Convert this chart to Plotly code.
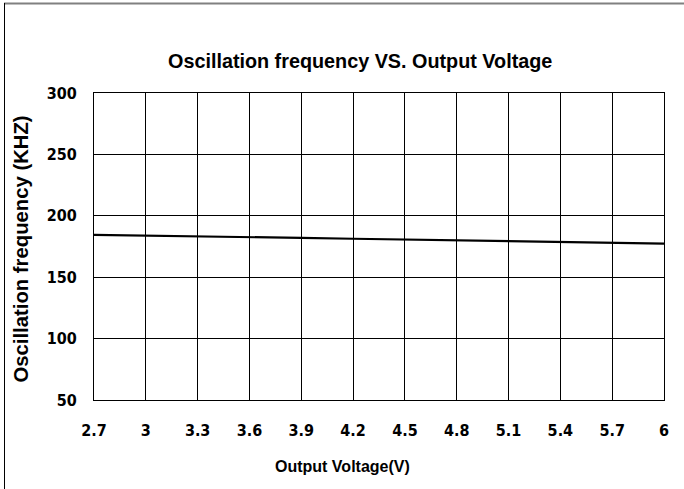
import plotly.graph_objects as go

voltage = [2.7, 3.0, 3.3, 3.6, 3.9, 4.2, 4.5, 4.8, 5.1, 5.4, 5.7, 6.0]
frequency = [184.5, 184.0, 183.3, 182.6, 182.0, 181.3, 180.6, 180.0, 179.3, 178.6, 178.0, 177.4]
x_ticks = [2.7, 3.0, 3.3, 3.6, 3.9, 4.2, 4.5, 4.8, 5.1, 5.4, 5.7, 6.0]
x_tick_text = ["2.7", "3", "3.3", "3.6", "3.9", "4.2", "4.5", "4.8", "5.1", "5.4", "5.7", "6"]
y_ticks = [50, 100, 150, 200, 250, 300]

title_text = "Oscillation frequency VS. Output Voltage"
x_title = "Output Voltage(V)"
y_title = "Oscillation frequency (KHZ)"

W, H = 684, 489
ML, MR, MT, MB = 94, 20, 93, 89
pw = W - ML - MR
ph = H - MT - MB


def px(x):
    return (x - ML) / pw


def py(y):
    return (H - y - MB) / ph


bold_font = "Liberation Sans, Arial, sans-serif"
narrow_font = "DejaVu Sans Condensed, Liberation Sans, Arial, sans-serif"

fig = go.Figure()
fig.add_trace(go.Scatter(x=voltage, y=frequency, mode="lines",
                         line=dict(color="black", width=2.2), hoverinfo="skip"))

fig.update_layout(
    width=W, height=H,
    margin=dict(l=ML, r=MR, t=MT, b=MB),
    paper_bgcolor="white", plot_bgcolor="white",
    showlegend=False,
    xaxis=dict(range=[2.7, 6.0], tickvals=x_ticks, ticktext=x_tick_text,
               showgrid=True, gridcolor="black", gridwidth=1,
               showline=True, linecolor="black", linewidth=1, mirror=True,
               zeroline=False, ticks="", ticklabelstandoff=16,
               tickfont=dict(family=narrow_font, size=16, color="black", weight="bold")),
    yaxis=dict(range=[50, 300], tickvals=y_ticks,
               showgrid=True, gridcolor="black", gridwidth=1,
               showline=True, linecolor="black", linewidth=1, mirror=True,
               zeroline=False, ticks="", ticklabelstandoff=13,
               tickfont=dict(family=narrow_font, size=16, color="black", weight="bold")),
    annotations=[
        dict(text="<b>" + title_text + "</b>", x=px(360), y=py(61), xref="paper", yref="paper",
             xanchor="center", yanchor="middle",
             showarrow=False, font=dict(family=bold_font, size=19.8, color="black")),
        dict(text="<b>" + x_title + "</b>", x=px(342), y=py(466), xref="paper", yref="paper",
             xanchor="center", yanchor="middle",
             showarrow=False, font=dict(family=bold_font, size=16, color="black")),
        dict(text="<b>" + y_title + "</b>", x=px(20), y=py(249.5), xref="paper", yref="paper",
             xanchor="center", yanchor="middle",
             showarrow=False, textangle=-90, font=dict(family=bold_font, size=20.3, color="black")),
    ],
    shapes=[
        dict(type="line", xref="paper", yref="paper", x0=px(4), x1=px(684), y0=py(3.5), y1=py(3.5),
             line=dict(color="#808080", width=2)),
        dict(type="line", xref="paper", yref="paper", x0=px(4.5), x1=px(4.5), y0=py(3), y1=py(489),
             line=dict(color="black", width=1)),
    ],
)

fig.write_html("out.html", config={"displayModeBar": False},
               post_script="document.body.style.margin='0';")
